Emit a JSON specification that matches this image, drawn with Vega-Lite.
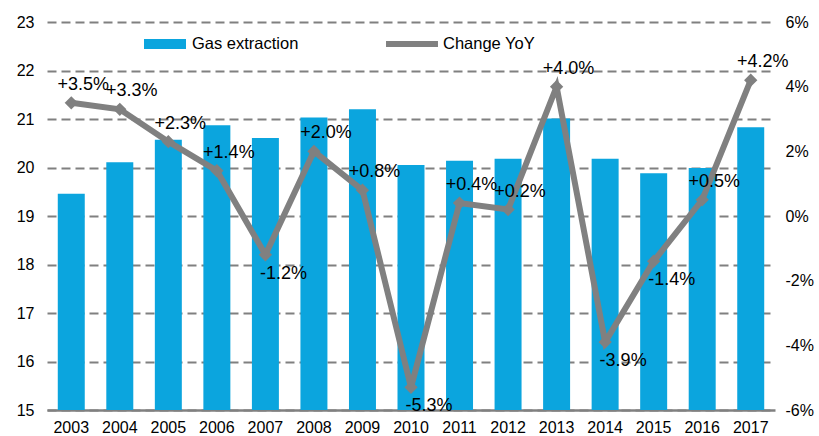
{
  "$schema": "https://vega.github.io/schema/vega-lite/v6.json",
  "width": 728,
  "height": 388,
  "autosize": {"type": "none"},
  "padding": {"left": 47, "top": 22, "right": 44, "bottom": 26},
  "background": "white",
  "config": {
    "view": {"stroke": null},
    "font": "Liberation Sans",
    "locale": {"number": {"decimal": ".", "thousands": ",", "grouping": [3], "currency": ["$", ""], "minus": "-"}},
    "axis": {"labelFont": "Liberation Sans", "labelFontSize": 16, "labelColor": "#000000", "ticks": false, "title": null},
    "legend": {"labelFont": "Liberation Sans", "labelFontSize": 16.5, "labelColor": "#000000", "title": null, "padding": 0}
  },
  "data": {
    "values": [
      {"year": "2003", "gas": 19.46, "yoy": 0.035},
      {"year": "2004", "gas": 20.11, "yoy": 0.033},
      {"year": "2005", "gas": 20.57, "yoy": 0.023},
      {"year": "2006", "gas": 20.87, "yoy": 0.014},
      {"year": "2007", "gas": 20.61, "yoy": -0.012},
      {"year": "2008", "gas": 21.03, "yoy": 0.020},
      {"year": "2009", "gas": 21.20, "yoy": 0.008},
      {"year": "2010", "gas": 20.05, "yoy": -0.053},
      {"year": "2011", "gas": 20.14, "yoy": 0.004},
      {"year": "2012", "gas": 20.18, "yoy": 0.002},
      {"year": "2013", "gas": 21.01, "yoy": 0.040},
      {"year": "2014", "gas": 20.18, "yoy": -0.039},
      {"year": "2015", "gas": 19.88, "yoy": -0.014},
      {"year": "2016", "gas": 19.99, "yoy": 0.005},
      {"year": "2017", "gas": 20.83, "yoy": 0.042}
    ]
  },
  "encoding": {
    "x": {
      "field": "year", "type": "ordinal",
      "scale": {"paddingInner": 0.444, "paddingOuter": 0.222},
      "axis": {"labelAngle": 0, "domainColor": "#808080", "domainWidth": 2.5, "labelPadding": 9, "grid": false}
    }
  },
  "layer": [
    {
      "mark": {"type": "bar"},
      "encoding": {
        "y": {
          "field": "gas", "type": "quantitative",
          "scale": {"domain": [15, 23], "nice": false, "zero": false},
          "axis": {"values": [15, 16, 17, 18, 19, 20, 21, 22, 23], "domain": false, "labelPadding": 13,
                   "grid": true, "gridColor": "#808080", "gridWidth": 2, "gridDash": [9, 5]}
        },
        "y2": {"datum": 15},
        "fill": {
          "datum": "Gas extraction", "type": "nominal",
          "scale": {"range": ["#0BA5DE"]},
          "legend": {"orient": "none", "legendX": 97, "legendY": 1, "symbolType": "M-1,-0.24H1V0.24H-1Z",
                     "symbolSize": 1764, "symbolStrokeWidth": 0, "symbolOpacity": 1, "labelOffset": 6}
        }
      }
    },
    {
      "encoding": {
        "y": {
          "field": "yoy", "type": "quantitative",
          "scale": {"domain": [-0.06, 0.06], "nice": false, "zero": false},
          "axis": {"orient": "right", "values": [-0.06, -0.04, -0.02, 0, 0.02, 0.04, 0.06], "format": ".0%",
                   "domain": false, "grid": false, "labelPadding": 10}
        }
      },
      "layer": [
        {
          "mark": {"type": "line", "strokeWidth": 6, "color": "#808080",
                   "point": {"shape": "diamond", "size": 110, "filled": true, "color": "#808080"}},
          "encoding": {
            "stroke": {
              "datum": "Change YoY", "type": "nominal",
              "scale": {"range": ["#808080"]},
              "legend": {"orient": "none", "legendX": 336, "legendY": -7, "symbolType": "stroke",
                         "symbolStrokeWidth": 6, "symbolSize": 2700, "labelOffset": 2}
            }
          }
        },
        {
          "transform": [{"filter": "datum.yoy >= 0"}],
          "mark": {"type": "text", "fontSize": 18, "color": "#000000", "dy": -18, "dx": 12},
          "encoding": {"text": {"field": "yoy", "type": "quantitative", "format": "+.1%"}}
        },
        {
          "transform": [{"filter": "datum.yoy < 0"}],
          "mark": {"type": "text", "fontSize": 18, "color": "#000000", "dy": 19, "dx": 18},
          "encoding": {"text": {"field": "yoy", "type": "quantitative", "format": ".1%"}}
        }
      ]
    }
  ],
  "resolve": {"scale": {"y": "independent"}}
}
